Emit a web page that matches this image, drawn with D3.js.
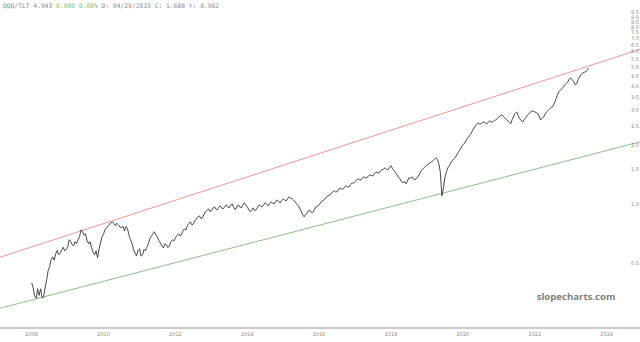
<!DOCTYPE html>
<head>
    <meta charset="utf-8">
    <script src="https://d3js.org/d3.v7.min.js"></script>
    <style>
      body { margin: 0; background: white; }
      text { font-family: "DejaVu Sans", sans-serif; }
      .header { font-family: "DejaVu Sans Mono", monospace; font-size: 6.3px; fill: #8a8a8a; }
      .axislabel { font-size: 5px; fill: #888; }
      .watermark { font-family: "Open Sans", sans-serif; font-weight: bold; font-size: 9.6px; fill: #808080; }
    </style>
<body>
    <script>
        // QQQ/TLT, two readings a month (1st, 16th) from Jan 2008
        var startMonth = "2008-01"
        var ratioValues = [
          0.395,0.372,0.335,0.330,0.368,0.340,0.368,0.331,0.335,0.372,0.409,0.455,0.477,0.520,0.536,0.515,0.555,0.578,0.549,0.560,0.582,0.600,0.575,0.585,
          0.603,0.655,0.640,0.618,0.610,0.640,0.625,0.655,0.678,0.735,0.720,0.690,0.703,0.650,0.625,0.640,0.596,0.565,0.549,0.575,0.530,0.590,0.632,0.680,
          0.703,0.740,0.754,0.770,0.781,0.800,0.809,0.790,0.772,0.795,0.781,0.760,0.754,0.770,0.728,0.765,0.745,0.690,0.655,0.630,0.582,0.560,0.542,0.575,
          0.589,0.540,0.549,0.585,0.575,0.600,0.625,0.665,0.686,0.700,0.720,0.695,0.678,0.650,0.632,0.610,0.596,0.625,0.617,0.598,0.610,0.640,0.655,0.645,
          0.670,0.690,0.703,0.685,0.694,0.725,0.745,0.735,0.772,0.795,0.809,0.780,0.790,0.820,0.838,0.855,0.868,0.840,0.848,0.880,0.910,0.925,0.943,0.915,
          0.921,0.950,0.965,0.940,0.932,0.960,0.977,0.950,0.943,0.970,0.988,0.965,0.954,0.985,1.000,0.955,0.932,0.965,0.988,0.965,0.954,0.990,1.012,0.985,
          0.965,0.930,0.910,0.935,0.954,0.925,0.932,0.962,0.988,0.972,0.965,0.990,1.012,0.995,0.977,1.005,1.024,1.005,1.000,1.030,1.048,1.025,1.012,1.040,
          1.061,1.045,1.036,1.065,1.086,1.070,1.061,1.045,1.024,1.000,0.977,0.950,0.921,0.880,0.858,0.880,0.899,0.925,0.921,0.900,0.910,0.940,0.965,0.975,
          0.988,1.015,1.036,1.045,1.061,1.085,1.099,1.110,1.125,1.150,1.165,1.150,1.152,1.185,1.207,1.190,1.193,1.220,1.236,1.220,1.221,1.255,1.280,1.275,
          1.296,1.325,1.342,1.325,1.326,1.355,1.374,1.360,1.358,1.390,1.407,1.395,1.390,1.430,1.457,1.440,1.440,1.475,1.492,1.505,1.528,1.500,1.492,1.540,
          1.564,1.510,1.474,1.440,1.407,1.370,1.342,1.300,1.280,1.300,1.265,1.310,1.358,1.350,1.374,1.340,1.326,1.355,1.374,1.420,1.474,1.500,1.528,1.555,
          1.583,1.600,1.621,1.640,1.659,1.690,1.718,1.690,1.601,1.450,1.099,1.200,1.358,1.450,1.528,1.570,1.621,1.665,1.698,1.730,1.779,1.840,1.888,1.950,
          2.001,2.040,2.098,2.160,2.200,2.260,2.333,2.410,2.474,2.540,2.593,2.560,2.563,2.600,2.624,2.590,2.563,2.620,2.655,2.620,2.624,2.670,2.686,2.730,
          2.783,2.820,2.848,2.790,2.750,2.700,2.655,2.610,2.563,2.700,2.815,2.900,2.951,2.820,2.718,2.660,2.624,2.700,2.750,2.830,2.883,2.940,2.987,2.960,
          2.951,2.920,2.883,2.780,2.686,2.740,2.783,2.880,2.951,3.000,3.058,3.110,3.131,3.260,3.400,3.580,3.735,3.800,3.869,3.950,4.053,4.120,4.200,4.330,
          4.402,4.300,4.200,4.050,4.103,4.300,4.454,4.580,4.666,4.700,4.721,4.820,4.943
        ]

        // channel lines drawn on the chart
        var channelDates = ["2007-01-01", "2025-01-01"]
        var upperChannel = [0.525, 6.22]
        var lowerChannel = [0.289, 2.09]

        var yearTicks = ["2008","2010","2012","2014","2016","2018","2020","2022","2024"]
        var priceTicks = [0.5,1.0,1.5,2.0,2.5,3.0,3.5,4.0,4.5,5.0,5.5,6.0,6.5,7.0,7.5,8.0,8.5,9.0,9.5]

        var headerParts = [
          {t: "QQQ/TLT 4.943 ", c: "#8a8a8a"},
          {t: "0.000 0.00% ", c: "#7dbb6e"},
          {t: "D: 04/29/2019 C: 1.688 Y: 0.962", c: "#8a8a8a"}
        ]

        var svg_w = 640
        var svg_h = 342
        var axisY = 328

        var parseMonth = d3.timeParse("%Y-%m")
        var parseDay = d3.timeParse("%Y-%m-%d")
        var parseYear = d3.timeParse("%Y")

        var start = parseMonth(startMonth)
        var series = ratioValues.map(function(v, i){
          var d = d3.timeMonth.offset(start, Math.floor(i/2))
          if (i % 2 == 1) d = d3.timeDay.offset(d, 15)
          return {date: d, value: v}
        })

        var svgContainer = d3.select("body")
          .append("svg")
          .attr("width", svg_w)
          .attr("height", svg_h)

        var scaleX = d3.scaleTime()
          .domain([parseYear("2008"), parseYear("2024")])
          .range([31.7, 606.7])
        var scaleY = d3.scaleLog()
          .domain([0.232, 11.0])
          .range([axisY, 0])

        svgContainer.append("clipPath")
          .attr("id", "plotclip")
          .append("rect")
          .attr("width", svg_w)
          .attr("height", axisY)

        var plot = svgContainer.append("g").attr("clip-path", "url(#plotclip)")

        function channel(vals, color){
          plot.append("line")
            .attr("x1", scaleX(parseDay(channelDates[0])))
            .attr("y1", scaleY(vals[0]))
            .attr("x2", scaleX(parseDay(channelDates[1])))
            .attr("y2", scaleY(vals[1]))
            .attr("stroke", color)
            .attr("stroke-width", 0.9)
        }
        channel(upperChannel, "#ec8a8a")
        channel(lowerChannel, "#7fb879")

        var line = d3.line()
          .x(function(d){ return scaleX(d.date) })
          .y(function(d){ return scaleY(d.value) })

        plot.append("path")
          .datum(series)
          .attr("d", line)
          .attr("fill", "none")
          .attr("stroke", "#333")
          .attr("stroke-width", 0.9)
          .attr("stroke-linejoin", "round")

        // bottom axis
        svgContainer.append("line")
          .attr("x1", 0).attr("x2", svg_w)
          .attr("y1", axisY).attr("y2", axisY)
          .attr("stroke", "#999")
          .attr("stroke-width", 1)

        svgContainer.selectAll(".yearlabel")
          .data(yearTicks)
          .enter()
          .append("text")
          .classed("axislabel", true)
          .attr("x", function(d){ return scaleX(parseYear(d)) })
          .attr("y", axisY + 8)
          .attr("text-anchor", "middle")
          .text(function(d){ return d })

        // right price axis
        svgContainer.selectAll(".pricelabel")
          .data(priceTicks)
          .enter()
          .append("text")
          .classed("axislabel", true)
          .attr("x", 631)
          .attr("y", function(d){ return scaleY(d) + 1.8 })
          .text(function(d){ return d3.format(".1f")(d) })

        var header = svgContainer.append("text")
          .classed("header", true)
          .attr("x", 3)
          .attr("y", 8)
        header.selectAll("tspan")
          .data(headerParts)
          .enter()
          .append("tspan")
          .attr("fill", function(d){ return d.c })
          .attr("xml:space", "preserve")
          .text(function(d){ return d.t })

        svgContainer.append("text")
          .classed("watermark", true)
          .attr("x", 576)
          .attr("y", 299.5)
          .attr("text-anchor", "middle")
          .text("slopecharts.com")
    </script>
</body>
